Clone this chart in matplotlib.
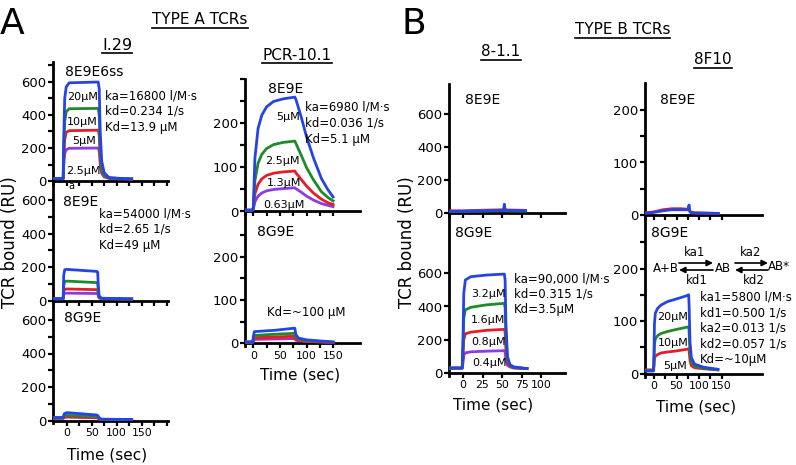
import matplotlib
matplotlib.use("Agg")
import matplotlib.pyplot as plt
from matplotlib.lines import Line2D
from matplotlib.patches import FancyArrowPatch
import numpy as np

plt.rcParams['font.family'] = ['DejaVu Sans']

# ---------------- DATA ----------------
# Panel A, I.29, 8E9E6ss  (20, 10, 5, 2.5 uM)
t_i29_a = [-27, -7, -6, -4, -1, 5, 63, 65, 67, 70, 75, 85, 130]
i29_a_20 = [15, 15, 250, 500, 570, 595, 600, 560, 300, 120, 50, 20, 12]
i29_a_10 = [15, 15, 180, 360, 420, 438, 440, 400, 200, 80, 35, 18, 12]
i29_a_5 = [15, 15, 130, 250, 295, 305, 308, 280, 150, 60, 30, 18, 12]
i29_a_25 = [15, 15, 90, 165, 190, 198, 200, 180, 100, 45, 25, 15, 12]

# Panel A, I.29, 8E9E
t_i29_b = [-27, -7, -6, -4, 0, 60, 62, 63, 65, 70, 130]
i29_b_1 = [12, 12, 150, 185, 187, 175, 170, 100, 25, 15, 10]
i29_b_2 = [12, 12, 90, 115, 117, 108, 105, 60, 20, 14, 10]
i29_b_3 = [12, 12, 55, 68, 70, 66, 64, 40, 18, 13, 10]
i29_b_4 = [12, 12, 35, 44, 45, 43, 42, 30, 16, 12, 10]

# Panel A, I.29, 8G9E
t_i29_c = [-27, -7, -5, 0, 30, 60, 62, 66, 70, 130]
i29_c_1 = [18, 18, 40, 47, 40, 33, 30, 12, 8, 6]
i29_c_2 = [15, 15, 28, 30, 28, 25, 22, 10, 7, 5]
i29_c_3 = [15, 15, 22, 24, 22, 20, 18, 9, 6, 5]
i29_c_4 = [12, 12, 18, 20, 18, 16, 14, 8, 6, 5]

# Panel A, PCR-10.1, 8E9E (5, 2.5, 1.3, 0.63 uM)
t_pcr_a = [-15, -2, 0, 3, 9, 16, 25, 38, 56, 78, 80, 90, 100, 113, 128, 140, 150]
pcr_a_5 = [3, 3, 10, 121, 189, 219, 238, 250, 256, 260, 255, 215, 170, 122, 75, 50, 33]
pcr_a_25 = [3, 3, 8, 70, 110, 130, 143, 152, 157, 160, 155, 128, 100, 72, 45, 32, 24]
pcr_a_13 = [3, 3, 6, 40, 62, 74, 82, 87, 90, 92, 88, 73, 58, 42, 28, 20, 16]
pcr_a_063 = [3, 3, 5, 22, 35, 42, 47, 50, 52, 54, 52, 44, 35, 26, 18, 14, 11]

# Panel A, PCR-10.1, 8G9E
t_pcr_b = [-15, -1, 0, 2, 40, 78, 80, 85, 100, 150]
pcr_b_1 = [3, 3, 15, 27, 30, 35, 20, 12, 8, 3]
pcr_b_2 = [3, 3, 10, 18, 21, 23, 14, 10, 6, 3]
pcr_b_3 = [3, 3, 8, 13, 15, 16, 10, 8, 5, 2]
pcr_b_4 = [2, 2, 5, 9, 10, 11, 7, 6, 4, 2]

# Panel B, 8-1.1, 8E9E
t_81_a = [-18, 0, 20, 40, 52, 53, 54, 56, 80]
b81_a_1 = [12, 12, 14, 16, 18, 55, 20, 18, 16]
b81_a_2 = [10, 12, 14, 15, 16, 16, 16, 15, 14]
b81_a_3 = [15, 15, 18, 20, 22, 22, 22, 20, 18]

# Panel B, 8-1.1, 8G9E (3.2, 1.6, 0.8, 0.4 uM)
t_81_b = [-18, -1, 0, 1, 3, 10, 30, 53, 54, 55, 57, 60, 65, 82]
b81_b_32 = [28, 28, 200, 480, 560, 580, 590, 596, 560, 300, 100, 50, 35, 25]
b81_b_16 = [28, 28, 150, 330, 380, 395, 410, 419, 390, 220, 80, 45, 32, 25]
b81_b_08 = [28, 28, 100, 200, 235, 245, 256, 262, 245, 140, 60, 40, 30, 25]
b81_b_04 = [28, 28, 60, 105, 120, 126, 130, 133, 125, 80, 45, 35, 28, 25]

# Panel B, 8F10, 8E9E
t_f10_a = [-20, 0, 20, 40, 60, 75, 78, 79, 81, 90, 143]
f10_a_1 = [3, 5, 8, 10, 10, 10, 19, 8, 5, 4, 3]
f10_a_2 = [4, 6, 10, 12, 12, 11, 12, 8, 6, 4, 3]

# Panel B, 8F10, 8G9E (20, 10, 5 uM)
t_f10_b = [-20, -1, 0, 1, 3, 8, 15, 30, 50, 72, 77, 78, 80, 83, 90, 110, 142]
f10_b_20 = [5, 5, 40, 95, 115, 124, 130, 137, 142, 148, 150, 130, 60, 30, 18, 12, 8]
f10_b_10 = [5, 5, 25, 55, 66, 72, 76, 80, 84, 88, 89, 80, 40, 22, 14, 10, 7]
f10_b_5 = [7, 7, 15, 28, 33, 36, 39, 41, 43, 46, 47, 43, 25, 15, 11, 9, 7]

# ticks
xt_i29 = [0, 25, 50, 75, 100, 125, 150, 175, 200]
xl_i29 = ['0', '', '50', '', '100', '', '150', '', '']
xt_pcr = [0, 25, 50, 75, 100, 125, 150]
xl_pcr = ['0', '', '50', '', '100', '', '150']
xt_81 = [0, 25, 50, 75, 100]
xl_81 = ['0', '25', '50', '75', '100']
xt_f10 = [0, 25, 50, 75, 100, 125, 150]
xl_f10 = ['0', '', '50', '', '100', '', '150']
yt_600 = [0, 200, 400, 600]
yt_200 = [0, 100, 200]

BLUE = '#2544e6'
GREEN = '#1f8a2a'
RED = '#e31e24'
PURPLE = '#8a3de3'
MAG = '#c02aa0'

W, H = 796, 465
fig = plt.figure(figsize=(W / 100, H / 100), dpi=100)


def make_axes(left, right, top, bottom, x0px, ppx, y0px, ppy, xt, xl, yt,
              yminor=None, show_xlabels=False):
    ax = fig.add_axes([left / W, 1 - bottom / H, (right - left) / W, (bottom - top) / H])
    ax.set_xlim((left - x0px) / ppx, (right - x0px) / ppx)
    ax.set_ylim((y0px - bottom) / ppy, (y0px - top) / ppy)
    ax.patch.set_visible(False)
    for s in ['top', 'right']:
        ax.spines[s].set_visible(False)
    ax.spines['bottom'].set_position(('data', 0))
    for s in ['left', 'bottom']:
        ax.spines[s].set_linewidth(2.0)
    ax.set_xticks(xt)
    ax.set_xticklabels(xl if show_xlabels else [''] * len(xt))
    ax.set_yticks(yt)
    if yminor is not None:
        ax.set_yticks(yminor, minor=True)
    ax.tick_params(axis='both', which='both', direction='out', length=3.5,
                   width=1.6, color='black')
    ax.tick_params(axis='y', labelsize=9.5, pad=1.5)
    ax.tick_params(axis='x', labelsize=7.8, pad=2)
    return ax


def curves(ax, t, ys, colors):
    for y, c in list(zip(ys, colors))[::-1]:
        ax.plot(t, y, color=c, lw=2.0, solid_joinstyle='round', zorder=3)


def txt(x, y, s, size=8.5, ha='left', va='center', **kw):
    return fig.text(x / W, 1 - y / H, s, fontsize=size, ha=ha, va=va, **kw)


# ---- I.29 column ----
a1 = make_axes(53, 168, 62, 184, 66.7, 0.5, 181, 0.165, xt_i29, xl_i29, yt_600,
               yminor=[100, 300, 500, 700])
curves(a1, t_i29_a, [i29_a_20, i29_a_10, i29_a_5, i29_a_25], [BLUE, GREEN, RED, PURPLE])
a2 = make_axes(53, 168, 184, 303, 66.7, 0.5, 300.7, 0.1675, xt_i29, xl_i29, yt_600,
               yminor=[100, 300, 500])
curves(a2, t_i29_b, [i29_b_1, i29_b_2, i29_b_3, i29_b_4], [BLUE, GREEN, RED, PURPLE])
a3 = make_axes(53, 168, 303, 423, 66.7, 0.5, 420.5, 0.1675, xt_i29, xl_i29, yt_600,
               yminor=[100, 300, 500], show_xlabels=True)
curves(a3, t_i29_c, [i29_c_1, i29_c_2, i29_c_3, i29_c_4], [BLUE, GREEN, RED, MAG])

# ---- PCR-10.1 column ----
p1 = make_axes(245, 360, 79, 214, 253.3, 0.532, 211.5, 0.44, xt_pcr, xl_pcr, yt_200,
               yminor=[50, 150, 250, 300])
curves(p1, t_pcr_a, [pcr_a_5, pcr_a_25, pcr_a_13, pcr_a_063], [BLUE, GREEN, RED, PURPLE])
p2 = make_axes(245, 360, 214, 346, 253.3, 0.532, 343.3, 0.433, xt_pcr, xl_pcr, yt_200,
               yminor=[50, 150, 250], show_xlabels=True)
curves(p2, t_pcr_b, [pcr_b_1, pcr_b_2, pcr_b_3, pcr_b_4], [BLUE, GREEN, RED, MAG])

# ---- 8-1.1 column ----
b1 = make_axes(449, 565, 84, 216, 463, 0.78, 213.3, 0.1655, xt_81, xl_81, yt_600)
curves(b1, t_81_a, [b81_a_1, b81_a_2, b81_a_3], [BLUE, GREEN, RED])
b2 = make_axes(449, 565, 216, 376, 463, 0.78, 372.7, 0.1655, xt_81, xl_81, yt_600,
               show_xlabels=True)
curves(b2, t_81_b, [b81_b_32, b81_b_16, b81_b_08, b81_b_04], [BLUE, GREEN, RED, PURPLE])

# ---- 8F10 column ----
f1 = make_axes(645, 762, 83, 218, 654, 0.45, 215, 0.525, xt_f10, xl_f10, yt_200,
               yminor=[50, 150])
curves(f1, t_f10_a, [f10_a_1, f10_a_2], [BLUE, RED])
f2 = make_axes(645, 762, 218, 377, 654, 0.45, 373.5, 0.525, xt_f10, xl_f10, yt_200,
               yminor=[50, 150, 250], show_xlabels=True)
curves(f2, t_f10_b, [f10_b_20, f10_b_10, f10_b_5], [BLUE, GREEN, RED])

# ---------------- TEXT ----------------
underlined = []
txt(0, 24, 'A', size=26)
txt(401, 24, 'B', size=26)
underlined.append(txt(200, 20, 'TYPE A TCRs', size=11, ha='center'))
underlined.append(txt(117, 45, 'I.29', size=11.5, ha='center'))
underlined.append(txt(297, 55, 'PCR-10.1', size=11, ha='center'))
underlined.append(txt(622.7, 30, 'TYPE B TCRs', size=11, ha='center'))
underlined.append(txt(501, 52, '8-1.1', size=11, ha='center'))
underlined.append(txt(712.7, 60, '8F10', size=11, ha='center'))

txt(10, 242, 'TCR bound (RU)', size=12, ha='center', rotation=90)
txt(407, 242, 'TCR bound (RU)', size=12, ha='center', rotation=90)
txt(107, 455, 'Time (sec)', size=11, ha='center')
txt(300, 375, 'Time (sec)', size=11, ha='center')
txt(492.7, 405, 'Time (sec)', size=11, ha='center')
txt(696, 407, 'Time (sec)', size=11, ha='center')

# I.29
txt(65, 72, '8E9E6ss', size=10)
txt(67, 97, '20µM', size=8)
txt(67, 122, '10µM', size=8)
txt(72, 141, '5µM', size=8)
txt(66, 171, '2.5µM', size=8)
txt(105, 96, 'ka=16800 l/M·s')
txt(105, 111, 'kd=0.234 1/s')
txt(105, 127, 'Kd=13.9 µM')
txt(68, 186, 'a', size=7)
txt(63, 202, '8E9E', size=10)
txt(99, 214, 'ka=54000 l/M·s')
txt(99, 229, 'kd=2.65 1/s')
txt(99, 245, 'Kd=49 µM')
txt(64, 318, '8G9E', size=10)

# PCR-10.1
txt(268, 89, '8E9E', size=10)
txt(276, 117, '5µM', size=8)
txt(265, 161, '2.5µM', size=8)
txt(267, 183, '1.3µM', size=8)
txt(263, 205, '0.63µM', size=8)
txt(305, 107, 'ka=6980 l/M·s')
txt(305, 123, 'kd=0.036 1/s')
txt(305, 139, 'Kd=5.1 µM')
txt(257, 232, '8G9E', size=10)
txt(267, 312, 'Kd=~100 µM')

# 8-1.1
txt(465, 100, '8E9E', size=10)
txt(455, 233, '8G9E', size=10)
txt(514, 279, 'ka=90,000 l/M·s')
txt(514, 294, 'kd=0.315 1/s')
txt(514, 309, 'Kd=3.5µM')
txt(471, 294, '3.2µM', size=8)
txt(471, 320, '1.6µM', size=8)
txt(471, 342, '0.8µM', size=8)
txt(472, 363, '0.4µM', size=8)

# 8F10
txt(660, 100, '8E9E', size=10)
txt(651, 233, '8G9E', size=10)
txt(653, 269, 'A+B', size=8.5)
txt(715, 269, 'AB', size=8.5)
txt(768, 266, 'AB*', size=8.5)
txt(695, 252.5, 'ka1', size=8.5, ha='center')
txt(697, 280, 'kd1', size=8.5, ha='center')
txt(751, 252, 'ka2', size=8.5, ha='center')
txt(754, 280, 'kd2', size=8.5, ha='center')
for (xa, xb, y) in [(679, 713, 263), (713, 679, 270), (735, 768, 263), (768, 735, 270)]:
    fig.add_artist(FancyArrowPatch((xa / W, 1 - y / H), (xb / W, 1 - y / H),
                                   transform=fig.transFigure, arrowstyle='-|>',
                                   mutation_scale=9, lw=1.2, color='black',
                                   shrinkA=0, shrinkB=0))
txt(700, 297, 'ka1=5800 l/M·s')
txt(700, 313, 'kd1=0.500 1/s')
txt(700, 328, 'ka2=0.013 1/s')
txt(700, 344, 'kd2=0.057 1/s')
txt(700, 360, 'Kd=~10µM')
txt(657, 317, '20µM', size=8)
txt(658, 343, '10µM', size=8)
txt(663, 366, '5µM', size=8)

# underlines
fig.canvas.draw()
r = fig.canvas.get_renderer()
for t in underlined:
    bb = t.get_window_extent(renderer=r)
    y = bb.y0 - 0.5
    fig.add_artist(Line2D([bb.x0 / W, bb.x1 / W], [y / H, y / H], color='black',
                          lw=1.2, transform=fig.transFigure))

fig.savefig('out.png', dpi=100)
